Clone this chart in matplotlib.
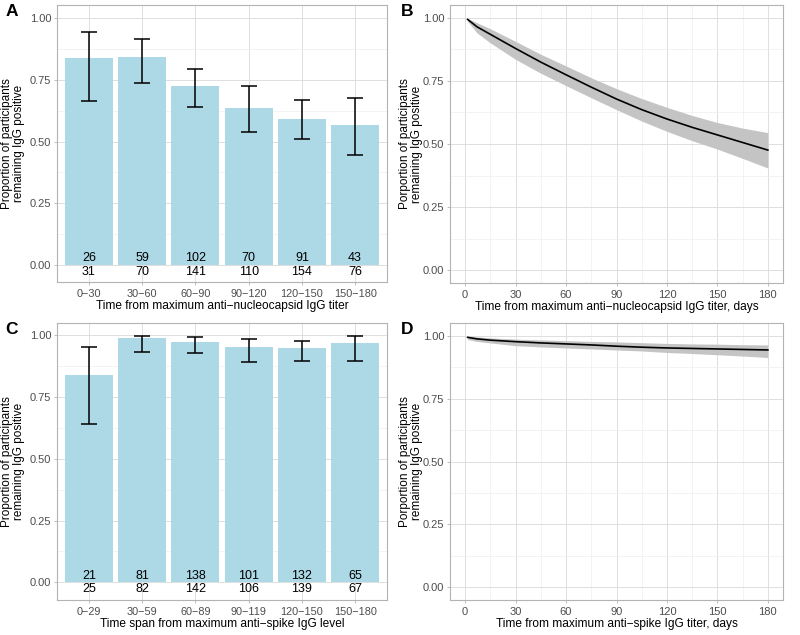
import numpy as np
import matplotlib
matplotlib.use('Agg')
import matplotlib.pyplot as plt
from matplotlib.ticker import MultipleLocator

plt.rcParams['font.family'] = ['Liberation Sans', 'DejaVu Sans']

# Panel A: anti-nucleocapsid, binned
cats_a = ['0\u221230', '30\u221260', '60\u221290', '90\u2212120', '120\u2212150', '150\u2212180']
pos_a = [26, 59, 102, 70, 91, 43]
tot_a = [31, 70, 141, 110, 154, 76]
lo_a = [0.663, 0.737, 0.641, 0.539, 0.509, 0.446]
hi_a = [0.945, 0.918, 0.795, 0.727, 0.669, 0.678]

# Panel C: anti-spike, binned
cats_c = ['0\u221229', '30\u221259', '60\u221289', '90\u2212119', '120\u2212150', '150\u2212180']
pos_c = [21, 81, 138, 101, 132, 65]
tot_c = [25, 82, 142, 106, 139, 67]
lo_c = [0.639, 0.932, 0.928, 0.892, 0.898, 0.896]
hi_c = [0.954, 0.999, 0.992, 0.984, 0.979, 0.996]

# Panels B and D: fitted curves with confidence bands
days = [1.5, 7, 15, 30, 45, 60, 75, 90, 105, 120, 135, 150, 165, 180]
fit_b = [0.993, 0.964, 0.934, 0.878, 0.824, 0.774, 0.725, 0.678, 0.636, 0.599, 0.566, 0.536, 0.506, 0.476]
up_b = [0.997, 0.980, 0.956, 0.906, 0.855, 0.809, 0.762, 0.719, 0.680, 0.645, 0.613, 0.585, 0.563, 0.545]
dn_b = [0.985, 0.940, 0.900, 0.835, 0.780, 0.731, 0.683, 0.636, 0.591, 0.550, 0.513, 0.480, 0.443, 0.405]

fit_d = [0.993, 0.987, 0.982, 0.976, 0.971, 0.967, 0.963, 0.958, 0.954, 0.951, 0.949, 0.947, 0.945, 0.943]
up_d = [0.999, 0.995, 0.991, 0.986, 0.983, 0.980, 0.977, 0.975, 0.972, 0.969, 0.967, 0.966, 0.964, 0.963]
dn_d = [0.984, 0.977, 0.971, 0.960, 0.955, 0.951, 0.947, 0.943, 0.939, 0.933, 0.929, 0.924, 0.919, 0.913]

BORDER = '#B3B3B3'
GRID = '#DEDEDE'
TICKC = '#4D4D4D'


def style(ax):
    for s in ax.spines.values():
        s.set_color(BORDER)
        s.set_linewidth(0.8)
    ax.set_axisbelow(True)
    ax.grid(which='major', color=GRID, linewidth=0.7)
    ax.grid(which='minor', color='#EEEEEE', linewidth=0.5)
    ax.tick_params(which='major', colors=BORDER, labelcolor=TICKC, labelsize=8, length=2.5, width=0.6, pad=1.5)
    ax.tick_params(which='minor', length=0)
    ax.yaxis.set_minor_locator(MultipleLocator(0.125))
    ax.set_yticks([0, 0.25, 0.5, 0.75, 1.0])
    ax.set_yticklabels(['0.00', '0.25', '0.50', '0.75', '1.00'])


def bar_panel(ax, cats, pos, tot, lo, hi, xlabel):
    x = np.arange(len(cats))
    prop = np.array(pos) / np.array(tot)
    ax.bar(x, prop, width=0.9, color='#ADD8E6', zorder=2)
    ax.errorbar(x, prop, yerr=[prop - np.array(lo), np.array(hi) - prop], fmt='none',
                ecolor='black', elinewidth=1.1, capsize=6, capthick=1.1, zorder=3)
    for xi, p, t in zip(x, pos, tot):
        ax.text(xi, 0.026, str(p), ha='center', va='center', fontsize=9, zorder=4)
        ax.text(xi, -0.028, str(t), ha='center', va='center', fontsize=9, zorder=4)
    ax.set_xlim(-0.6, len(cats) - 0.4)
    style(ax)
    ax.set_xticks(x)
    ax.set_xticklabels(cats, fontsize=7.8)
    ax.tick_params(axis='x', pad=2.5)
    ax.set_xlabel(xlabel, fontsize=8.6, labelpad=1)
    ax.set_ylabel('Proportion of participants\nremaining IgG positive', fontsize=8.5, linespacing=1.05)
    ax.yaxis.set_label_coords(-0.097, 0.5)


def curve_panel(ax, fit, up, dn, xlabel):
    ax.fill_between(days, dn, up, color='#C4C4C4', linewidth=0, zorder=2)
    ax.plot(days, fit, color='black', linewidth=1.2, zorder=3)
    ax.set_xlim(-9, 189)
    ax.set_ylim(-0.05, 1.05)
    style(ax)
    ax.set_xticks(np.arange(0, 181, 30))
    ax.xaxis.set_minor_locator(MultipleLocator(15))
    ax.tick_params(axis='x', pad=2.5)
    ax.set_xlabel(xlabel, fontsize=8.6, labelpad=1)
    ax.set_ylabel('Porportion of participants\nremaining IgG positive', fontsize=8.5, linespacing=1.05)
    ax.yaxis.set_label_coords(-0.081, 0.5)


fig = plt.figure(figsize=(8, 6.35), dpi=100)
axA = fig.add_axes([0.0713, 0.5559, 0.4125, 0.4362])
axB = fig.add_axes([0.5625, 0.5543, 0.41625, 0.4378])
axC = fig.add_axes([0.0713, 0.0551, 0.4125, 0.4362])
axD = fig.add_axes([0.5625, 0.0551, 0.41625, 0.4362])

bar_panel(axA, cats_a, pos_a, tot_a, lo_a, hi_a, 'Time from maximum anti\u2212nucleocapsid IgG titer')
axA.set_ylim(-0.07, 1.054)
bar_panel(axC, cats_c, pos_c, tot_c, lo_c, hi_c, 'Time span from maximum anti\u2212spike IgG level')
axC.set_ylim(-0.072, 1.05)

curve_panel(axB, fit_b, up_b, dn_b, 'Time from maximum anti\u2212nucleocapsid IgG titer, days')
curve_panel(axD, fit_d, up_d, dn_d, 'Time from maximum anti\u2212spike IgG titer, days')

for lab, x, y in [('A', 0.007, 0.982), ('B', 0.501, 0.982), ('C', 0.007, 0.481), ('D', 0.501, 0.481)]:
    fig.text(x, y, lab, fontsize=12.5, fontweight='bold', ha='left', va='center')

fig.savefig('out.png', dpi=100, facecolor='white')
